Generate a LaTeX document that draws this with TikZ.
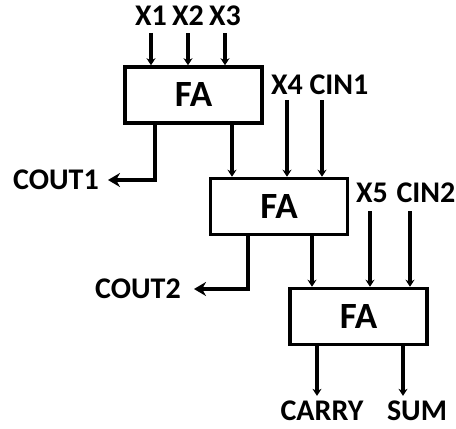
\documentclass[tikz,border=0pt]{standalone}
\usepackage{fontspec}
\setmainfont{Carlito}
\usetikzlibrary{arrows.meta,positioning}

\begin{document}
\begin{tikzpicture}[x=1pt,y=-1pt,
    fa/.style={draw,line width=3.5pt,minimum width=137pt,minimum height=56pt,font=\fontsize{37}{40}\selectfont\bfseries},
    sig/.style={font=\fontsize{30}{32}\selectfont\bfseries,inner sep=0pt},
    wire/.style={line width=3.5pt,-{Stealth[length=7pt,width=9pt]}},
    cout/.style={line width=3.5pt,-{Stealth[length=12pt,width=14pt]}}]
  \useasboundingbox (0,0) rectangle (456,429);
  % adders
  \node[fa] (fa1) at (193.5,95) {FA};
  \node[fa] (fa2) at (279,206.5) {FA};
  \node[fa] (fa3) at (358.5,316.5) {FA};
  % signal names
  \node[sig] (x1) at (151,16) {X1};
  \node[sig] (x2) at (188,16) {X2};
  \node[sig] (x3) at (225,16) {X3};
  \node[sig] (x4) at (287,85) {X4};
  \node[sig] (cin1) at (339,85) {CIN1};
  \node[sig] (x5) at (372,193) {X5};
  \node[sig] (cin2) at (426,193) {CIN2};
  \node[sig] (cout1) at (56,180) {COUT1};
  \node[sig] (cout2) at (138,289) {COUT2};
  \node[sig] (carry) at (322,411) {CARRY};
  \node[sig] (sum) at (417,411) {SUM};
  % inputs
  \draw[wire] ([yshift=-7pt]x1.south) -- (x1 |- fa1.north);
  \draw[wire] ([yshift=-7pt]x2.south) -- (x2 |- fa1.north);
  \draw[wire] ([yshift=-7pt]x3.south) -- (x3 |- fa1.north);
  \draw[wire] ([yshift=-5pt]x4.south) -- (x4 |- fa2.north);
  \draw[wire] ([xshift=-17pt,yshift=-5pt]cin1.south) -- ([xshift=-17pt]cin1.south |- fa2.north);
  \draw[wire] ([xshift=-2pt,yshift=-8pt]x5.south) -- ([xshift=-2pt]x5.south |- fa3.north);
  \draw[wire] ([xshift=-16pt,yshift=-8pt]cin2.south) -- ([xshift=-16pt]cin2.south |- fa3.north);
  % carries between stages
  \draw[cout] ([xshift=-38.5pt]fa1.south) |- ([xshift=9pt]cout1.east);
  \draw[wire] ([xshift=38.5pt]fa1.south) -- ([xshift=38.5pt]fa1.south |- fa2.north);
  \draw[cout] ([xshift=-31pt]fa2.south) |- ([xshift=13pt]cout2.east);
  \draw[wire] ([xshift=33pt]fa2.south) -- ([xshift=33pt]fa2.south |- fa3.north);
  % outputs
  \draw[wire,shorten >=5pt] ([xshift=-41.5pt]fa3.south) -- ([xshift=-41.5pt]fa3.south |- carry.north);
  \draw[wire,shorten >=5pt] ([xshift=44.5pt]fa3.south) -- ([xshift=44.5pt]fa3.south |- sum.north);
\end{tikzpicture}
\end{document}
